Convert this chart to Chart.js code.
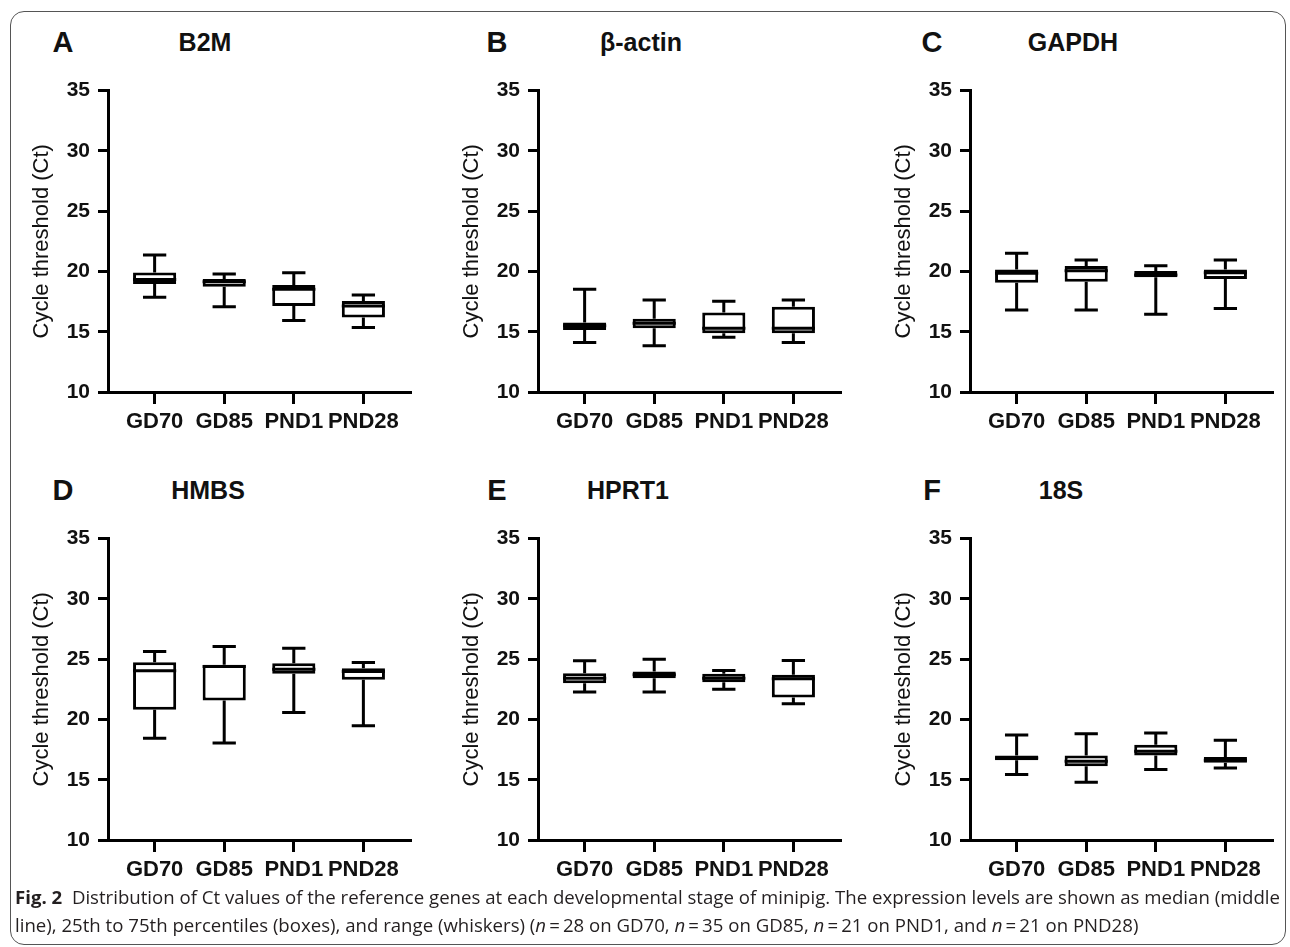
<!DOCTYPE html>
<html>
<head>
<meta charset="utf-8">
<script src="https://cdn.jsdelivr.net/npm/chart.js@4.4.1/dist/chart.umd.min.js"></script>
<style>
  html, body { margin: 0; padding: 0; background: #fff; }
  body { width: 1290px; height: 947px; position: relative; overflow: hidden; font-family: "Liberation Sans", Arial, sans-serif; }
  #frame { position: absolute; left: 10px; top: 11px; width: 1276px; height: 934px; border: 1.5px solid #555; border-radius: 14px; box-sizing: border-box; }
  .cv { position: absolute; }
  .letter { position: absolute; font-weight: bold; font-size: 29px; color: #111; transform: translate(-50%, -50%); white-space: nowrap; }
  .gtitle { position: absolute; font-weight: bold; font-size: 25px; color: #111; transform: translate(-50%, -50%); white-space: nowrap; }
  .cap { position: absolute; left: 15px; font-family: "Open Sans", "Noto Sans", sans-serif; font-size: 18px; color: #231f20; white-space: nowrap; transform-origin: 0 50%; }
  .cap b { font-weight: 700; }
</style>
</head>
<body>
<div id="frame"></div>

<script>
// ---------- data ----------
const categories = ['GD70', 'GD85', 'PND1', 'PND28'];
const geneNames = ['B2M', 'β-actin', 'GAPDH', 'HMBS', 'HPRT1', '18S'];
const panelLetters = ['A', 'B', 'C', 'D', 'E', 'F'];
const yTickValues = [10, 15, 20, 25, 30, 35];

// each row: [min, Q1, median, Q3, max] per category
const statsB2M = [[17.86, 18.96, 19.34, 19.92, 21.36], [17.08, 18.74, 19.15, 19.37, 19.79], [15.93, 17.14, 18.52, 18.88, 19.90], [15.35, 16.17, 17.14, 17.55, 18.05]];
const statsActin = [[14.10, 15.15, 15.49, 15.76, 18.52], [13.83, 15.29, 15.70, 16.07, 17.64], [14.55, 14.88, 15.29, 16.59, 17.53], [14.10, 14.88, 15.29, 17.08, 17.64]];
const statsGAPDH = [[16.81, 19.07, 19.84, 20.17, 21.50], [16.81, 19.15, 20.06, 20.45, 20.94], [16.45, 19.51, 19.70, 20.03, 20.47], [16.92, 19.37, 19.90, 20.17, 20.94]];
const statsHMBS = [[18.43, 20.80, 24.03, 24.75, 25.63], [18.05, 21.58, 24.40, 24.53, 26.04], [20.58, 23.78, 24.17, 24.66, 25.90], [19.48, 23.29, 23.97, 24.25, 24.72]];
const statsHPRT1 = [[22.27, 23.01, 23.42, 23.84, 24.86], [22.27, 23.42, 23.70, 23.97, 25.00], [22.51, 23.09, 23.42, 23.78, 24.06], [21.30, 21.82, 23.37, 23.70, 24.89]];
const stats18S = [[15.43, 16.62, 16.81, 17.00, 18.71], [14.80, 16.12, 16.53, 17.00, 18.82], [15.84, 17.00, 17.36, 17.91, 18.87], [15.98, 16.40, 16.62, 16.89, 18.27]];

const captionLine1 = 'Distribution of Ct values of the reference genes at each developmental stage of minipig. The expression levels are shown as median (middle';
const captionLine2 = 'line), 25th to 75th percentiles (boxes), and range (whiskers) (<i>n</i>\u2009=\u200928 on GD70, <i>n</i>\u2009=\u200935 on GD85, <i>n</i>\u2009=\u200921 on PND1, and <i>n</i>\u2009=\u200921 on PND28)';

const allStats = [statsB2M, statsActin, statsGAPDH, statsHMBS, statsHPRT1, stats18S];

// ---------- layout ----------
const axisXs = [108, 538, 970];
const plotTops = [90, 538];
const plotH = 302, plotW = 302;
const letterX = [63, 497, 932];
const titleX = [205, 641, 1073, 208, 628, 1061];

function makeBoxPlugin(stats) {
  return {
    id: 'boxWhiskers',
    afterDatasetsDraw(chart) {
      const xs = chart.scales.x, ys = chart.scales.y;
      const meta = chart.getDatasetMeta(0);
      const ctx = chart.ctx;
      ctx.save();
      ctx.strokeStyle = '#000';
      ctx.lineWidth = 3;
      ctx.lineCap = 'butt';
      stats.forEach((s, i) => {
        const x = xs.getPixelForValue(i);
        const w = meta.data[i].width;
        const cap = w * 0.54;
        const [mn, q1, md, q3, mx] = s.map(v => ys.getPixelForValue(v));
        ctx.beginPath();
        ctx.moveTo(x, q3); ctx.lineTo(x, mx);
        ctx.moveTo(x - cap / 2, mx); ctx.lineTo(x + cap / 2, mx);
        ctx.moveTo(x, q1); ctx.lineTo(x, mn);
        ctx.moveTo(x - cap / 2, mn); ctx.lineTo(x + cap / 2, mn);
        ctx.moveTo(x - w / 2, md); ctx.lineTo(x + w / 2, md);
        ctx.stroke();
      });
      ctx.restore();
    }
  };
}

const LEFT_W = 100, TOP_PAD = 20, RIGHT_PAD = 12, BOTTOM_H = 60;

allStats.forEach((stats, p) => {
  const col = p % 3, row = Math.floor(p / 3);
  const ax = axisXs[col], top = plotTops[row];
  const cv = document.createElement('canvas');
  const W = LEFT_W + plotW + RIGHT_PAD, H = TOP_PAD + plotH + BOTTOM_H;
  cv.width = W; cv.height = H;
  cv.className = 'cv';
  cv.style.left = (ax - LEFT_W) + 'px';
  cv.style.top = (top - TOP_PAD) + 'px';
  cv.style.width = W + 'px'; cv.style.height = H + 'px';
  document.body.appendChild(cv);

  const L = document.createElement('div');
  L.className = 'letter'; L.textContent = panelLetters[p];
  L.style.left = letterX[col] + 'px'; L.style.top = (top - 48) + 'px';
  document.body.appendChild(L);
  const T = document.createElement('div');
  T.className = 'gtitle'; T.textContent = geneNames[p];
  T.style.left = titleX[p] + 'px'; T.style.top = (top - 48) + 'px';
  document.body.appendChild(T);

  new Chart(cv, {
    type: 'bar',
    data: {
      datasets: [{
        data: stats.map((s, i) => ({ x: i, y: [s[1], s[3]] })),
        backgroundColor: '#fff',
        borderColor: '#000',
        borderWidth: 3,
        borderSkipped: false,
        barPercentage: 0.62,
        categoryPercentage: 1
      }]
    },
    options: {
      responsive: false,
      animation: false,
      devicePixelRatio: 1,
      layout: { padding: { top: TOP_PAD, right: RIGHT_PAD, left: 0, bottom: 0 } },
      plugins: { legend: { display: false }, tooltip: { enabled: false } },
      scales: {
        x: {
          type: 'linear',
          offset: false,
          min: -0.67, max: 3.67,
          afterBuildTicks: s => { s.ticks = categories.map((c, i) => ({ value: i })); },
          afterFit: s => { s.height = BOTTOM_H; },
          ticks: {
            callback: v => categories[v],
            autoSkip: false, maxRotation: 0, minRotation: 0,
            color: '#111', padding: 5,
            font: { family: '"Liberation Sans", Arial, sans-serif', size: 22, weight: 'bold' }
          },
          grid: { display: true, offset: false, drawOnChartArea: false, drawTicks: true, tickLength: 12, color: '#000', lineWidth: 3 },
          border: { display: true, color: '#000', width: 3 }
        },
        y: {
          min: 10, max: 35,
          afterBuildTicks: s => { s.ticks = yTickValues.map(v => ({ value: v })); },
          afterFit: s => { s.width = LEFT_W; },
          ticks: {
            color: '#111', padding: 8,
            font: { family: '"Liberation Sans", Arial, sans-serif', size: 21, weight: 'bold' }
          },
          grid: { display: true, drawOnChartArea: false, drawTicks: true, tickLength: 10, color: '#000', lineWidth: 3 },
          border: { display: true, color: '#000', width: 3 },
          title: {
            display: true, text: 'Cycle threshold (Ct)', color: '#111',
            padding: { top: 21, bottom: 0 },
            font: { family: '"Liberation Sans", Arial, sans-serif', size: 22, weight: 'normal' }
          }
        }
      }
    },
    plugins: [makeBoxPlugin(stats)]
  });
});

// caption
const c1 = document.createElement('div');
c1.className = 'cap'; c1.style.top = '885px';
c1.innerHTML = '<b>Fig. 2</b>&nbsp; ' + captionLine1;
document.body.appendChild(c1);
const c2 = document.createElement('div');
c2.className = 'cap'; c2.style.top = '913px';
c2.innerHTML = captionLine2;
document.body.appendChild(c2);
const target1 = 1265;
const sx = target1 / c1.getBoundingClientRect().width;
c1.style.transform = 'scaleX(' + sx + ')';
c2.style.transform = 'scaleX(' + sx + ')';
</script>
</body>
</html>
